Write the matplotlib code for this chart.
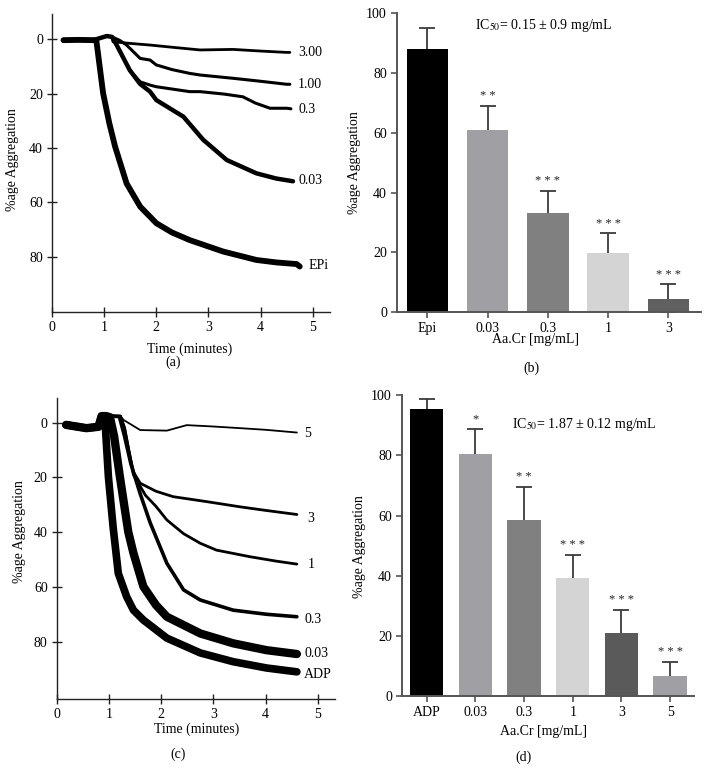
import matplotlib
matplotlib.use("Agg")
import matplotlib.pyplot as plt

plt.rcParams['font.family'] = ['Liberation Serif', 'DejaVu Serif']
plt.rcParams['mathtext.fontset'] = 'stix'
FS = 10

# ---------------- Panel (a): epinephrine traces ----------------
a_labels = ["3.00", "1.00", "0.3", "0.03", "EPi"]
a_t = {
    "3.00": [0.22, 0.5, 0.79, 1.05, 1.15, 1.17, 1.5, 1.88, 2.3, 2.84, 3.47, 4.0, 4.5, 4.56],
    "1.00": [0.22, 0.5, 0.79, 1.05, 1.15, 1.3, 1.43, 1.69, 1.88, 2.0, 2.3, 2.64, 2.84, 3.47, 4.0, 4.5, 4.56],
    "0.3": [0.22, 0.5, 0.79, 1.05, 1.15, 1.24, 1.49, 1.69, 1.88, 2.0, 2.64, 2.84, 3.3, 3.66, 3.9, 4.18, 4.5, 4.58],
    "0.03": [0.22, 0.5, 0.79, 1.05, 1.15, 1.24, 1.49, 1.69, 1.88, 2.0, 2.52, 2.9, 3.09, 3.35, 3.92, 4.3, 4.62],
    "EPi": [0.22, 0.5, 0.79, 0.85, 0.98, 1.1, 1.21, 1.43, 1.69, 2.0, 2.3, 2.64, 3.28, 3.92, 4.3, 4.69, 4.75],
}
a_y = {
    "3.00": [0.4, 0.3, 0.4, -1.1, -0.8, 1.0, 1.6, 2.2, 3.0, 4.0, 3.8, 4.4, 4.9, 4.9],
    "1.00": [0.4, 0.3, 0.4, -1.1, -0.8, 0.5, 2.2, 7.1, 7.7, 9.5, 11.2, 12.6, 13.2, 14.4, 15.5, 16.6, 16.6],
    "0.3": [0.4, 0.3, 0.4, -1.1, -0.8, 2.2, 11.4, 15.7, 16.9, 17.5, 19.3, 19.3, 20.2, 21.2, 23.5, 25.4, 25.4, 25.6],
    "0.03": [0.4, 0.3, 0.4, -1.1, -0.8, 2.2, 11.4, 16.5, 19.3, 22.4, 28.5, 37.0, 40.1, 44.4, 49.3, 51.2, 52.2],
    "EPi": [0.4, 0.3, 0.4, 0.5, 19.9, 31.0, 39.5, 53.0, 61.5, 67.6, 71.0, 73.8, 78.0, 81.1, 82.0, 82.6, 83.5],
}
a_lw = {"3.00": 2.0, "1.00": 2.2, "0.3": 2.2, "0.03": 3.2, "EPi": 4.2}
a_lab_xy = {"3.00": (4.72, 4.8), "1.00": (4.72, 16.5), "0.3": (4.72, 25.7),
            "0.03": (4.72, 52.1), "EPi": (4.91, 83.3)}

# ---------------- Panel (b): epinephrine bars ----------------
b_cats = ["Epi", "0.03", "0.3", "1", "3"]
b_vals = [88.0, 61.0, 33.0, 19.7, 4.5]
b_err = [7.0, 8.0, 7.5, 6.6, 4.8]
b_sig = ["", "**", "***", "***", "***"]
b_colors = ["#000000", "#a0a0a4", "#808080", "#d4d4d4", "#606060"]

# ---------------- Panel (c): ADP traces ----------------
c_labels = ["5", "3", "1", "0.3", "0.03", "ADP"]
c_t = {
    "5": [0.18, 0.57, 0.8, 0.9, 1.0, 1.07, 1.22, 1.28, 1.6, 2.11, 2.49, 3.0, 3.51, 4.0, 4.6],
    "3": [0.18, 0.57, 0.8, 0.9, 1.0, 1.07, 1.22, 1.3, 1.38, 1.47, 1.6, 1.9, 2.23, 2.87, 3.51, 4.0, 4.6],
    "1": [0.18, 0.57, 0.8, 0.9, 1.0, 1.07, 1.22, 1.3, 1.38, 1.47, 1.7, 1.9, 2.11, 2.43, 2.75, 3.06, 3.7, 4.2, 4.6],
    "0.3": [0.18, 0.57, 0.8, 0.9, 1.0, 1.07, 1.2, 1.3, 1.42, 1.6, 1.79, 2.11, 2.43, 2.75, 3.38, 4.02, 4.6],
    "0.03": [0.18, 0.57, 0.8, 0.86, 0.95, 1.02, 1.1, 1.21, 1.37, 1.47, 1.66, 1.9, 2.11, 2.75, 3.38, 4.02, 4.6],
    "ADP": [0.18, 0.57, 0.8, 0.86, 0.92, 0.99, 1.08, 1.18, 1.34, 1.47, 1.66, 2.11, 2.75, 3.38, 4.02, 4.6],
}
c_y = {
    "5": [0.8, 2.0, 1.5, -1.5, -1.0, -2.4, -2.4, -1.0, 2.7, 2.9, 0.9, 1.4, 2.0, 2.6, 3.6],
    "3": [0.8, 2.0, 1.5, -1.5, -1.0, -2.4, -2.4, 2.0, 10.0, 18.0, 22.1, 25.0, 27.0, 28.8, 30.7, 32.0, 33.5],
    "1": [0.8, 2.0, 1.5, -1.5, -1.0, -2.4, -2.4, 2.0, 10.0, 19.0, 26.5, 30.5, 35.5, 40.5, 44.0, 46.5, 48.9, 50.5, 51.6],
    "0.3": [0.8, 2.0, 1.5, -1.5, -1.0, -2.4, -2.2, 5.0, 15.0, 26.0, 36.5, 51.3, 61.0, 64.7, 68.4, 69.9, 70.8],
    "0.03": [0.8, 2.0, 1.5, -2.4, -2.4, -2.0, 5.0, 19.7, 39.8, 47.6, 59.8, 66.5, 70.8, 76.9, 80.5, 83.0, 84.4],
    "ADP": [0.8, 2.0, 1.5, -2.4, -2.4, 19.7, 38.0, 55.0, 63.5, 68.4, 72.0, 78.6, 84.0, 87.2, 89.5, 90.9],
}
c_lw = {"5": 1.3, "3": 2.0, "1": 2.0, "0.3": 2.6, "0.03": 6.0, "ADP": 5.5}
c_lab_xy = {"5": (4.74, 4.0), "3": (4.8, 35.0), "1": (4.8, 51.9), "0.3": (4.74, 71.9),
            "0.03": (4.74, 84.3), "ADP": (4.74, 92.0)}

# ---------------- Panel (d): ADP bars ----------------
d_cats = ["ADP", "0.03", "0.3", "1", "3", "5"]
d_vals = [95.6, 80.6, 58.4, 39.2, 20.8, 6.5]
d_err = [3.1, 8.2, 11.2, 7.7, 7.9, 4.8]
d_sig = ["", "*", "**", "***", "***", "***"]
d_colors = ["#000000", "#a0a0a4", "#808080", "#d4d4d4", "#5a5a5a", "#a0a0a4"]

W, H = 708, 784
fig = plt.figure(figsize=(W / 100, H / 100), dpi=100)


def box(l, r, t, b):
    return [l / W, 1 - b / H, (r - l) / W, (b - t) / H]


def trace_panel(ax, labels, tt, yy, lw, labxy, ylim):
    for k in labels:
        ax.plot(tt[k], yy[k], color="black", lw=lw[k], solid_joinstyle="round",
                solid_capstyle="round")
        x, y = labxy[k]
        ax.text(x, y, k, ha="left", va="center", fontsize=FS)
    ax.set_xlim(0, 5.33)
    ax.set_ylim(*ylim)
    ax.set_xticks([0, 1, 2, 3, 4, 5])
    ax.set_yticks([0, 20, 40, 60, 80])
    for s in ["top", "right"]:
        ax.spines[s].set_visible(False)
    for s in ["left", "bottom"]:
        ax.spines[s].set_linewidth(1.0)
        ax.spines[s].set_color("#222222")
    ax.tick_params(direction="inout", length=7, width=1.0, labelsize=FS,
                   color="#222222", pad=3)


def bar_panel(ax, cats, vals, err, sig, colors, xlim):
    x = list(range(len(cats)))
    ax.bar(x, vals, width=0.685, color=colors, zorder=2)
    ax.errorbar(x, vals, yerr=err, fmt="none", ecolor="#3a3a3a",
                elinewidth=1.3, capsize=5.8, capthick=1.3, zorder=1)
    for xi, v, e, s in zip(x, vals, err, sig):
        if s:
            ax.text(xi, v + e + 1.2, " ".join(s), ha="center", va="bottom",
                    fontsize=9, color="#222222")
    ax.set_xlim(*xlim)
    ax.set_ylim(0, 100)
    ax.set_xticks(x)
    ax.set_xticklabels(cats)
    ax.set_yticks([0, 20, 40, 60, 80, 100])
    for s in ["top", "right"]:
        ax.spines[s].set_visible(False)
    for s in ["left", "bottom"]:
        ax.spines[s].set_linewidth(1.4)
        ax.spines[s].set_color("#555555")
        ax.spines[s].set_zorder(4)
    ax.tick_params(direction="out", length=4, width=1.2, labelsize=FS,
                   color="#555555", pad=3)


# (a)
axa = fig.add_axes(box(52, 330, 14, 312))
trace_panel(axa, a_labels, a_t, a_y, a_lw, a_lab_xy, (100.2, -9.2))

# (b)
axb = fig.add_axes(box(396.7, 701, 13.3, 312))
bar_panel(axb, b_cats, b_vals, b_err, b_sig, b_colors, (-0.507, 4.54))
axb.text(0.79, 96, "IC$_{50}$= 0.15 ± 0.9 mg/mL", ha="left", va="center", fontsize=FS)

# (c)
axc = fig.add_axes(box(56.7, 335, 398, 698.7))
trace_panel(axc, c_labels, c_t, c_y, c_lw, c_lab_xy, (100.7, -9.0))

# (d)
axd = fig.add_axes(box(401.7, 694, 395.3, 696))
bar_panel(axd, d_cats, d_vals, d_err, d_sig, d_colors, (-0.514, 5.49))
axd.text(1.76, 90.2, "IC$_{50}$= 1.87 ± 0.12 mg/mL", ha="left", va="center", fontsize=FS)

# axis labels and captions (figure coordinates)
def ftext(x, y, s, **kw):
    fig.text(x / W, 1 - y / H, s, ha="center", va="center", fontsize=FS, **kw)

ftext(13, 160, "%age Aggregation", rotation=90)
ftext(355, 163, "%age Aggregation", rotation=90)
ftext(20, 532, "%age Aggregation", rotation=90)
ftext(359, 547, "%age Aggregation", rotation=90)

ftext(190, 349, "Time (minutes)")
ftext(536, 340, "Aa.Cr [mg/mL]")
ftext(197, 729, "Time (minutes)")
ftext(544, 732, "Aa.Cr [mg/mL]")

ftext(173, 362, "(a)")
ftext(531, 368, "(b)")
ftext(178, 754, "(c)")
ftext(524, 757, "(d)")

fig.savefig("out.png", dpi=100)
